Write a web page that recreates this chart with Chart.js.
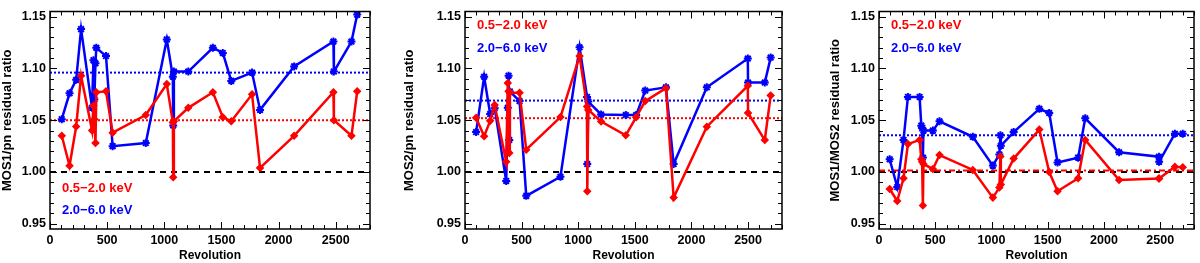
<!DOCTYPE html>
<html lang="en">
<head>
<meta charset="UTF-8" />
<title>MOS / pn residual ratios vs revolution</title>
<script src="https://cdn.jsdelivr.net/npm/chart.js"></script>
<style>
  body { margin: 0; background: #fff; width: 1200px; height: 263px; overflow: hidden; position: relative; }
  canvas { position: absolute; top: 0; }
</style>
</head>
<body>
<canvas id="p1" width="400" height="263" style="left:0px"></canvas>
<canvas id="p2" width="400" height="263" style="left:402px"></canvas>
<canvas id="p3" width="372" height="263" style="left:828px"></canvas>
<script>
// axis ticks shared by all panels
const xTicks = [0, 500, 1000, 1500, 2000, 2500];
const yTicks = [0.95, 1.00, 1.05, 1.10, 1.15];
const bandSoft = '0.5\u22122.0 keV';
const bandHard = '2.0\u22126.0 keV';

// MOS1/pn
const rev1  = [103, 171, 229, 272, 368, 380, 388, 398, 405, 490, 548, 838, 1022, 1075, 1078, 1084, 1210, 1425, 1512, 1586, 1768, 1838, 2136, 2480, 2484, 2638, 2688];
const soft1 = [1.035, 1.006, 1.044, 1.093, 1.040, 1.064, 1.051, 1.028, 1.077, 1.078, 1.038, 1.055, 1.085, 1.048, 0.995, 1.049, 1.062, 1.077, 1.053, 1.049, 1.075, 1.004, 1.035, 1.077, 1.050, 1.035, 1.078];
const hard1 = [1.051, 1.076, 1.089, 1.138, 1.062, 1.108, 1.070, 1.105, 1.120, 1.112, 1.025, 1.028, 1.128, 1.092, 1.045, 1.097, 1.097, 1.120, 1.115, 1.088, 1.096, 1.060, 1.102, 1.126, 1.097, 1.126, 1.152];
const mean1 = { soft: 1.050, hard: 1.096 };

// MOS2/pn
const rev2  = [98, 169, 222, 262, 364, 378, 385, 391, 396, 482, 541, 843, 1012, 1078, 1080, 1089, 1202, 1420, 1512, 1592, 1775, 1843, 2136, 2498, 2500, 2648, 2700];
const soft2 = [1.0525, 1.0346, 1.0494, 1.0648, 1.010, 1.086, 1.078, 1.0185, 1.0765, 1.0765, 1.0216, 1.0531, 1.112, 1.0633, 0.9815, 1.060, 1.0488, 1.0355, 1.053, 1.0685, 1.0809, 0.9753, 1.0438, 1.0833, 1.0571, 1.0309, 1.074];
const hard2 = [1.0386, 1.092, 1.056, 1.0617, 0.9914, 1.062, 1.093, 1.031, 1.0778, 1.0685, 0.977, 0.9954, 1.1204, 1.0725, 1.0077, 1.068, 1.0556, 1.055, 1.055, 1.0787, 1.0818, 1.0077, 1.0818, 1.1096, 1.0864, 1.0864, 1.1105];
const mean2 = { soft: 1.052, hard: 1.069 };

// MOS1/MOS2
const rev3  = [95, 162, 218, 257, 361, 376, 383, 390, 395, 479, 538, 834, 1012, 1070, 1079, 1083, 1197, 1425, 1513, 1587, 1770, 1833, 2134, 2488, 2490, 2630, 2700];
const soft3 = [0.9836, 0.972, 0.994, 1.027, 1.031, 1.0123, 1.010, 0.9676, 1.0077, 1.003, 1.0164, 1.002, 0.9753, 0.985, 1.015, 0.988, 1.013, 1.041, 1.000, 0.9815, 0.994, 1.031, 0.9923, 0.9938, 0.9938, 1.005, 1.0046];
const hard3 = [1.0123, 0.9855, 1.031, 1.0725, 1.0725, 1.0448, 1.0426, 1.014, 1.040, 1.040, 1.049, 1.034, 1.0062, 1.017, 1.0355, 1.0253, 1.0386, 1.061, 1.057, 1.0093, 1.0139, 1.0519, 1.0191, 1.0148, 1.0099, 1.037, 1.037];
const mean3 = { soft: 1.0015, hard: 1.0355 };

const X_MAX = 2800;
const RED = '#ff0000';
const BLUE = '#0000ff';

// IDL-style frame: box, inward ticks on all four sides, in-plot legend text
const idlFrame = {
  id: 'idlFrame',
  afterDraw(chart, args, opts) {
    const { ctx, chartArea: a, scales: { x, y } } = chart;
    ctx.save();
    ctx.strokeStyle = '#000';
    ctx.lineWidth = 1.5;
    ctx.strokeRect(a.left, a.top, a.right - a.left, a.bottom - a.top);
    ctx.lineWidth = 1;
    ctx.beginPath();
    for (let v = 0; v <= x.max; v += 100) {
      const px = Math.round(x.getPixelForValue(v)) + 0.5;
      const len = v % 500 === 0 ? 7 : 4;
      ctx.moveTo(px, a.bottom); ctx.lineTo(px, a.bottom - len);
      ctx.moveTo(px, a.top); ctx.lineTo(px, a.top + len);
    }
    for (let i = Math.ceil(y.min * 100); i <= Math.floor(y.max * 100); i++) {
      const py = Math.round(y.getPixelForValue(i / 100)) + 0.5;
      const len = i % 5 === 0 ? 7 : 4;
      ctx.moveTo(a.left, py); ctx.lineTo(a.left + len, py);
      ctx.moveTo(a.right, py); ctx.lineTo(a.right - len, py);
    }
    ctx.stroke();

    ctx.font = 'bold 13px "Liberation Sans", Arial, sans-serif';
    ctx.textBaseline = 'middle';
    ctx.fillStyle = RED;
    ctx.fillText(bandSoft, a.left + 12, opts.legendY[0]);
    ctx.fillStyle = BLUE;
    ctx.fillText(bandHard, a.left + 12, opts.legendY[1]);
    ctx.restore();
  }
};

function series(xs, ys, color, style, order) {
  return {
    data: xs.map((v, i) => ({ x: v, y: ys[i] })),
    showLine: true,
    borderColor: color,
    backgroundColor: color,
    borderWidth: 2.5,
    pointStyle: style,
    pointRadius: style === 'star' ? 4 : 3.2,
    pointBorderWidth: style === 'star' ? 2 : 1.5,
    pointBorderColor: color,
    pointBackgroundColor: color,
    order: order
  };
}

function refLine(v, color, dash) {
  return {
    data: [{ x: 0, y: v }, { x: X_MAX, y: v }],
    showLine: true,
    borderColor: color,
    borderWidth: 2,
    borderDash: dash,
    pointRadius: 0,
    order: 3
  };
}

const tickFont = { family: '"Liberation Sans", Arial, sans-serif', size: 12.5, weight: 'bold' };
const xTitleFont = { family: '"Liberation Sans", Arial, sans-serif', size: 12, weight: 'bold' };
const yTitleFont = { family: '"Liberation Sans", Arial, sans-serif', size: 13, weight: 'bold' };

function makePanel(id, cfg) {
  new Chart(document.getElementById(id), {
    type: 'scatter',
    data: {
      datasets: [
        series(cfg.rev, cfg.soft, RED, 'rectRot', 0),
        series(cfg.rev, cfg.hard, BLUE, 'star', 1),
        refLine(cfg.mean.hard, BLUE, [2, 2]),
        refLine(cfg.mean.soft, RED, cfg.softDash),
        refLine(1.0, '#000', [6, 5])
      ]
    },
    options: {
      responsive: false,
      animation: false,
      devicePixelRatio: 1,
      layout: { padding: { top: 3, right: cfg.padRight, left: 0, bottom: 0 } },
      plugins: {
        legend: { display: false },
        tooltip: { enabled: false },
        idlFrame: { legendY: cfg.legendY }
      },
      scales: {
        x: {
          type: 'linear',
          min: 0,
          max: X_MAX,
          afterBuildTicks: s => { s.ticks = xTicks.map(v => ({ value: v })); },
          afterFit: s => { s.height = 34; },
          grid: { display: false, drawTicks: false },
          border: { display: false },
          ticks: { color: '#000', font: tickFont, padding: 4, maxRotation: 0, autoSkip: false, callback: v => String(v) },
          title: { display: true, text: 'Revolution', color: '#000', font: xTitleFont, padding: 0 }
        },
        y: {
          min: 0.945,
          max: 1.155,
          afterBuildTicks: s => { s.ticks = yTicks.map(v => ({ value: v })); },
          afterFit: s => { s.width = cfg.yWidth; },
          grid: { display: false, drawTicks: false },
          border: { display: false },
          ticks: { color: '#000', font: tickFont, padding: 4, callback: v => v.toFixed(2) },
          title: { display: true, text: cfg.title, color: '#000', font: yTitleFont, padding: 0 }
        }
      }
    },
    plugins: [idlFrame]
  });
}

makePanel('p1', { rev: rev1, soft: soft1, hard: hard1, mean: mean1, softDash: [2, 2],
  title: 'MOS1/pn residual ratio', yWidth: 50, padRight: 30, legendY: [188, 210] });
makePanel('p2', { rev: rev2, soft: soft2, hard: hard2, mean: mean2, softDash: [2, 2],
  title: 'MOS2/pn residual ratio', yWidth: 63, padRight: 20, legendY: [25, 48] });
makePanel('p3', { rev: rev3, soft: soft3, hard: hard3, mean: mean3, softDash: [6, 3, 2, 3],
  title: 'MOS1/MOS2 residual ratio', yWidth: 51, padRight: 5, legendY: [25, 48] });
</script>
</body>
</html>
